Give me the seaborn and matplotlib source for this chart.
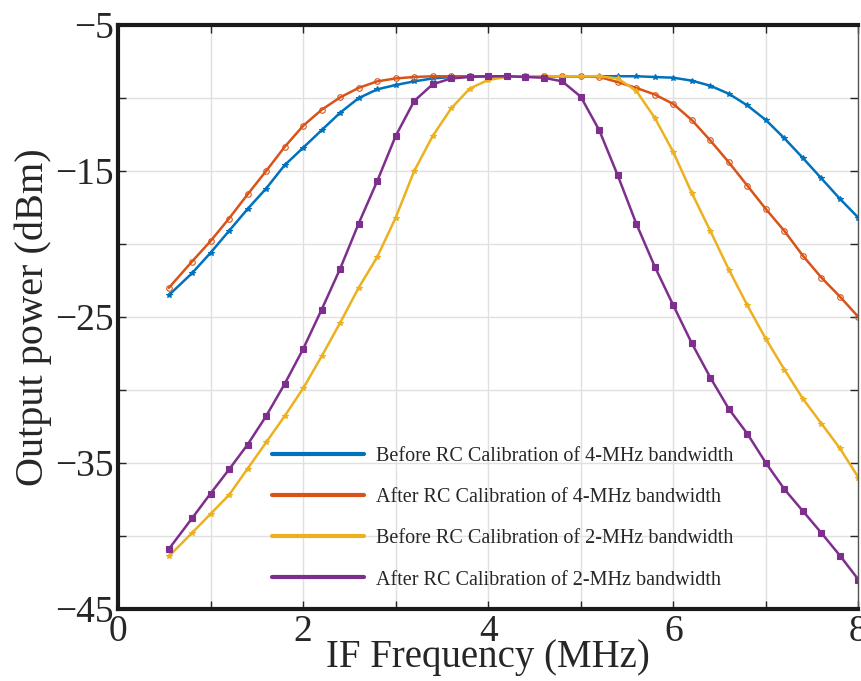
import matplotlib
matplotlib.use("Agg")
import matplotlib.pyplot as plt
from matplotlib.lines import Line2D
import seaborn as sns

# IF frequency (MHz)
freq = [0.55, 0.8, 1.0, 1.2, 1.4, 1.6, 1.8, 2.0, 2.2, 2.4, 2.6, 2.8, 3.0,
        3.2, 3.4, 3.6, 3.8, 4.0, 4.2, 4.4, 4.6, 4.8, 5.0, 5.2, 5.4, 5.6,
        5.8, 6.0, 6.2, 6.4, 6.6, 6.8, 7.0, 7.2, 7.4, 7.6, 7.8, 8.0]

# output power (dBm)
before_4mhz = [-23.5, -22.0, -20.6, -19.1, -17.6, -16.2, -14.6, -13.4, -12.2,
               -11.0, -10.0, -9.4, -9.1, -8.85, -8.65, -8.55, -8.5, -8.5,
               -8.5, -8.5, -8.5, -8.5, -8.5, -8.5, -8.5, -8.5, -8.55, -8.6,
               -8.8, -9.15, -9.7, -10.5, -11.5, -12.75, -14.1, -15.5, -16.9,
               -18.2]
after_4mhz = [-23.0, -21.2, -19.8, -18.25, -16.6, -15.0, -13.35, -11.9, -10.8,
              -9.95, -9.3, -8.85, -8.65, -8.55, -8.5, -8.5, -8.5, -8.5, -8.5,
              -8.5, -8.5, -8.5, -8.5, -8.55, -8.9, -9.3, -9.75, -10.4, -11.5,
              -12.9, -14.4, -16.0, -17.6, -19.1, -20.8, -22.3, -23.6, -25.0]
before_2mhz = [-41.4, -39.8, -38.5, -37.2, -35.4, -33.6, -31.8, -29.9, -27.7,
               -25.4, -23.0, -20.9, -18.2, -15.0, -12.6, -10.7, -9.35, -8.75,
               -8.55, -8.5, -8.5, -8.5, -8.5, -8.5, -8.65, -9.5, -11.35, -13.7,
               -16.5, -19.1, -21.75, -24.2, -26.5, -28.6, -30.6, -32.3, -34.0,
               -36.0]
after_2mhz = [-40.9, -38.8, -37.1, -35.45, -33.75, -31.8, -29.6, -27.2, -24.5,
              -21.7, -18.6, -15.7, -12.6, -10.2, -9.05, -8.65, -8.55, -8.5,
              -8.5, -8.55, -8.6, -8.85, -9.9, -12.2, -15.3, -18.6, -21.55,
              -24.2, -26.8, -29.15, -31.3, -33.0, -35.0, -36.8, -38.3, -39.8,
              -41.35, -43.0]

labels = ["Before RC Calibration of 4-MHz bandwidth",
          "After RC Calibration of 4-MHz bandwidth",
          "Before RC Calibration of 2-MHz bandwidth",
          "After RC Calibration of 2-MHz bandwidth"]
colors = ["#0072BD", "#D95319", "#EDB120", "#7E2F8E"]

sns.set_theme(style="ticks")
plt.rcParams["font.family"] = ["Liberation Serif", "DejaVu Serif"]

fig = plt.figure(figsize=(8.61, 6.81), dpi=100)
ax = fig.add_axes([0.137, 0.106, 0.860, 0.857])

series = [before_4mhz, after_4mhz, before_2mhz, after_2mhz]
markers = ["*", "o", "*", "s"]
for vals, col, mk in zip(series, colors, markers):
    face = "none" if mk == "o" else col
    sns.lineplot(x=freq, y=vals, ax=ax, color=col, lw=1.8, marker=mk,
                 markersize=4, markerfacecolor=face, markeredgecolor=col,
                 markeredgewidth=0.8, legend=False)

ax.set_xlim(0, 8)
ax.set_ylim(-45, -5)
ax.set_xticks(range(0, 9))
ax.set_xticklabels([str(v) if v % 2 == 0 else "" for v in range(0, 9)])
ax.set_yticks(range(-45, -4, 5))
ax.set_yticklabels(["\u2212" + str(-v) if (v + 5) % 10 == 0 else ""
                    for v in range(-45, -4, 5)])
ax.grid(True, color="#e0e0e0", lw=1.0)
ax.tick_params(direction="in", length=6, width=1, labelsize=27,
               top=True, right=True)
ax.tick_params(axis="x", pad=4)
ax.tick_params(axis="y", pad=3)
for s in ["left", "bottom", "top"]:
    ax.spines[s].set_linewidth(3)
    ax.spines[s].set_color("#1a1a1a")
ax.spines["right"].set_linewidth(1)
ax.spines["right"].set_color("#555555")

ax.set_xlabel("IF Frequency (MHz)", fontsize=28, labelpad=-7)
ax.set_ylabel("Output power (dBm)", fontsize=29, labelpad=2)

handles = [Line2D([0], [0], color=c, lw=3) for c in colors]
ax.legend(handles, labels, loc="lower left", bbox_to_anchor=(0.183, 0.002),
          frameon=False, fontsize=14.5, handlelength=4.6, handletextpad=0.6,
          labelspacing=1.1)

fig.savefig("out.png", dpi=100)
